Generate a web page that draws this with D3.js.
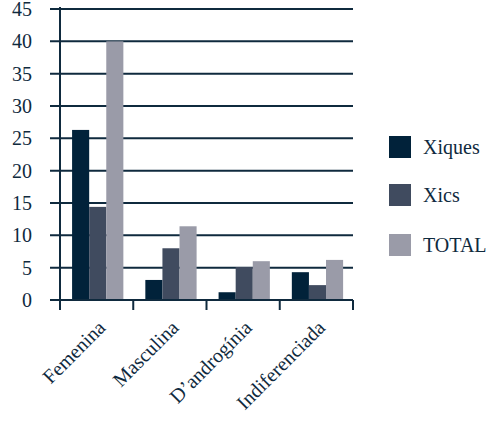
<!DOCTYPE html>
<html><head><meta charset="utf-8">
<script src="https://cdn.jsdelivr.net/npm/d3@7"></script>
<style>body{margin:0;background:#fff}</style>
</head><body>
<svg id="c" width="496" height="428"></svg>
<script>
const categories = ["Femenina","Masculina","D’androgínia","Indiferenciada"];
const seriesNames = ["Xiques","Xics","TOTAL"];
const xiques = [26.3, 3.1, 1.2, 4.3];
const xics = [14.4, 8.0, 5.1, 2.3];
const total = [40, 11.4, 6.0, 6.2];
const yTicks = [0,5,10,15,20,25,30,35,40,45];
const colors = ["#01223a","#404b5f","#9a9ba8"];
const ink = "#0f2a3e";

const svg = d3.select("#c");
const L = 60, R = 353, T = 9, B = 300;
const x = d3.scaleBand().domain(categories).range([L,R]).paddingInner(0).paddingOuter(0);
const y = d3.scaleLinear().domain([0,45]).range([B,T]);
const bw = x.bandwidth();
const xs = d3.scaleBand().domain(seriesNames).range([bw*0.165, bw*0.865]).padding(0);
const data = [xiques,xics,total];

svg.append("g").selectAll("line").data(yTicks).join("line")
  .attr("x1",50).attr("x2",R).attr("y1",d=>y(d)).attr("y2",d=>y(d))
  .attr("stroke",ink).attr("stroke-width",2);

categories.forEach((c,i)=>{
  seriesNames.forEach((s,j)=>{
    svg.append("rect").attr("x",x(c)+xs(s)).attr("width",xs.bandwidth())
      .attr("y",y(data[j][i])).attr("height",B-y(data[j][i])).attr("fill",colors[j]);
  });
});

svg.append("line").attr("x1",50).attr("x2",R).attr("y1",B).attr("y2",B).attr("stroke",ink).attr("stroke-width",2);
svg.append("line").attr("x1",L).attr("x2",L).attr("y1",T-2).attr("y2",B+10).attr("stroke",ink).attr("stroke-width",2);
const bounds = categories.map(c=>x(c)).concat([R]);
svg.append("g").selectAll("line").data(bounds.slice(1)).join("line")
  .attr("x1",d=>d).attr("x2",d=>d).attr("y1",B).attr("y2",B+10).attr("stroke",ink).attr("stroke-width",2);

const tg = svg.append("g").attr("font-family","Liberation Serif").attr("font-size",20).attr("fill",ink);

tg.append("g").selectAll("text").data(yTicks).join("text")
  .attr("x",32).attr("y",d=>y(d)+7).attr("text-anchor","end").text(d=>d);

tg.append("g").selectAll("text").data(categories).join("text")
  .attr("transform",d=>`translate(${x(d)+bw/2+10},${B+29}) rotate(-45)`)
  .attr("text-anchor","end").text(d=>d);

seriesNames.forEach((s,j)=>{
  const ly = [136,184,234][j];
  svg.append("rect").attr("x",389).attr("y",ly).attr("width",22).attr("height",22).attr("fill",colors[j]);
  tg.append("text").attr("x",423).attr("y",ly+18).text(s);
});
</script>
</body></html>
